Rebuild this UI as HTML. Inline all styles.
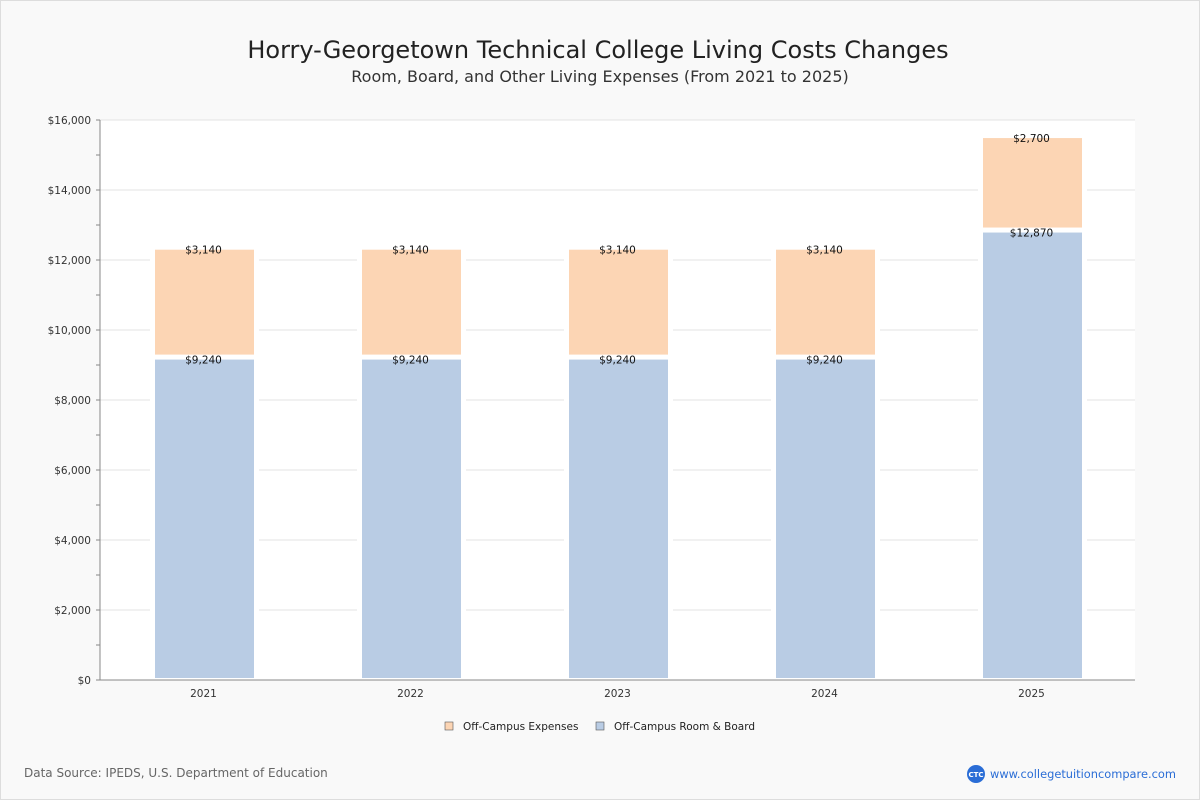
<!DOCTYPE html>
<html><head><meta charset="utf-8"><style>
body{margin:0;background:#f9f9f9;font-family:"DejaVu Sans","Liberation Sans",sans-serif}
svg{display:block}
</style></head><body>
<svg id="c" width="1200" height="800">
<rect x="0.5" y="0.5" width="1199" height="799" fill="#f9f9f9" stroke="#ddd"/>
<text x="598" y="58" text-anchor="middle" font-size="24" fill="#222">Horry-Georgetown Technical College Living Costs Changes</text>
<text x="600" y="82" text-anchor="middle" font-size="16" fill="#333">Room, Board, and Other Living Expenses (From 2021 to 2025)</text>
<rect x="100" y="120" width="1035" height="560" fill="#fff"/>
<g id="grid"></g><g id="bars"></g><g id="axes"></g>
<g>
<rect x="445" y="722" width="8" height="8" fill="#fcd5b4" stroke="#555" stroke-width="0.6"/>
<text x="463" y="730" font-size="10.5" fill="#222">Off-Campus Expenses</text>
<rect x="596" y="722" width="8" height="8" fill="#b9cce4" stroke="#555" stroke-width="0.6"/>
<text x="614" y="730" font-size="10.5" fill="#222">Off-Campus Room &amp; Board</text>
</g>
<text x="24" y="777" font-size="12" fill="#666">Data Source: IPEDS, U.S. Department of Education</text>
<circle cx="976" cy="774" r="9" fill="#2a6dd6"/>
<text x="976" y="777" text-anchor="middle" font-size="7" fill="#fff" font-weight="bold">CTC</text>
<text x="990" y="778" font-size="11.4" fill="#2a6dd6">www.collegetuitioncompare.com</text>
</svg>
<script>
const categories=["2021","2022","2023","2024","2025"];
const roomBoard=[9240,9240,9240,9240,12870];
const expenses=[3140,3140,3140,3140,2700];
const yTicks=[0,2000,4000,6000,8000,10000,12000,14000,16000];
const NS="http://www.w3.org/2000/svg";
const L=100,R=1135,T=120,B=680,maxV=16000;
const y=v=>B-(v/maxV)*(B-T);
const band=(R-L)/categories.length;
const x=i=>L+band*(i+0.5)+1;
const bw=99;
const off=3;
function mk(tag,attrs,parent,txt){const e=document.createElementNS(NS,tag);for(const k in attrs)e.setAttribute(k,attrs[k]);if(txt!=null)e.textContent=txt;document.getElementById(parent).appendChild(e);return e;}
const fmt=v=>"$"+v.toLocaleString("en-US");
yTicks.forEach(t=>{
 if(t>0){const g=mk("line",{x1:L,x2:R,y1:y(t),y2:y(t),stroke:"#e3e3e3"},"grid");
 
 }
 const lb=mk("text",{x:L-9,y:y(t)+4,"text-anchor":"end","font-size":"10.5",fill:"#333"},"axes",fmt(t));
 
 
});
for(let v=0;v<=maxV;v+=1000){const tk=mk("line",{x1:L-4,x2:L,y1:y(v),y2:y(v),stroke:"#888"},"axes");
 
 }
const ya=mk("line",{x1:L,x2:L,y1:T,y2:B,stroke:"#888"},"axes");


const xa=mk("line",{x1:L,x2:R,y1:B,y2:B,stroke:"#888"},"axes");


categories.forEach((c,i)=>{
 const cx=x(i);
 const top=y(roomBoard[i]+expenses[i])+off;
 const bg=mk("rect",{x:cx-bw/2-5,y:top-1,width:bw+10,height:B-top,fill:"#fff"},"bars");
 
 
 const y0=y(roomBoard[i])+off;
 const b1=mk("rect",{x:cx-bw/2,y:y0,width:bw,height:B-2-y0,fill:"#b9cce4"},"bars");
 
 
 const b2=mk("rect",{x:cx-bw/2,y:top,width:bw,height:y0-top-5,fill:"#fcd5b4"},"bars");
 
 
 const l1=mk("text",{x:cx-1,y:y0+4,"text-anchor":"middle","font-size":"10.5",fill:"#111"},"bars",fmt(roomBoard[i]));
 
 
 const l2=mk("text",{x:cx-1,y:top+4,"text-anchor":"middle","font-size":"10.5",fill:"#111"},"bars",fmt(expenses[i]));
 
 
 const xl=mk("text",{x:cx-1,y:B+17,"text-anchor":"middle","font-size":"10.5",fill:"#333"},"axes",c);
 
 
});
</script>
</body></html>
